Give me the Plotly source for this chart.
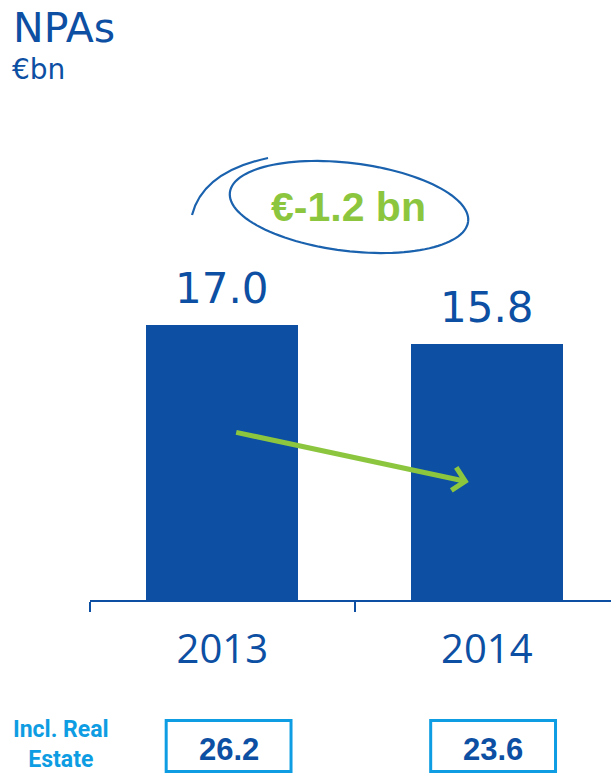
import numpy as np
import plotly.graph_objects as go

# ---- data -------------------------------------------------------------
years = ["2013", "2014"]
npa_values = [17.0, 15.8]            # NPAs, €bn
real_estate_values = [26.2, 23.6]    # incl. real estate, €bn
row_label = "Incl. Real<br>Estate"
title_text = "NPAs"
unit_text = "€bn"

# ---- page geometry ------------------------------------------------------
W, H = 611, 775
ML, MR, MT, MB = 90, 0, 100, 175
PW = W - ML - MR
PH = H - MT - MB

BLUE = "#0C4FA3"
RING = "#1A62AE"
GREEN = "#8CC63F"
LIGHT_BLUE = "#0E9DE2"

cat_px = 264.5                        # pixels per category slot
x_range = [-0.5, -0.5 + PW / cat_px]
y_range = [0, PH / 16.18]


def fx(p):
    """pixel x -> paper x"""
    return (p - ML) / PW


def fy(p):
    """pixel y -> paper y"""
    return (H - MB - p) / PH


xs = list(range(len(years)))

fig = go.Figure()
fig.add_trace(go.Bar(
    x=xs, y=npa_values, width=0.575,
    marker=dict(color=BLUE, line=dict(width=0)),
    hoverinfo="skip", showlegend=False,
))

annotations = []
shapes = []

# value labels above bars
for i, v in zip(xs, npa_values):
    annotations.append(dict(
        x=i, y=v, xref="x", yref="y", text=f"{v:.1f}", showarrow=False,
        yanchor="bottom", xanchor="center", yshift=10,
        font=dict(family="DejaVu Sans", size=42, color=BLUE),
    ))

# title and unit
annotations.append(dict(
    x=fx(11), y=fy(2), xref="paper", yref="paper", text=title_text,
    showarrow=False, xanchor="left", yanchor="top",
    font=dict(family="DejaVu Sans", size=41, color=BLUE),
))
annotations.append(dict(
    x=fx(10), y=fy(51), xref="paper", yref="paper", text=unit_text,
    showarrow=False, xanchor="left", yanchor="top",
    font=dict(family="DejaVu Sans", size=28, color=BLUE),
))

# change callout inside a hand-drawn ring
change = npa_values[1] - npa_values[0]
annotations.append(dict(
    x=fx(348), y=fy(207), xref="paper", yref="paper",
    text=f"<b>€{change:.1f} bn</b>", showarrow=False,
    xanchor="center", yanchor="middle",
    font=dict(family="Liberation Sans", size=41, color=GREEN),
))

cx, cy, a, b, th = 349, 207, 120, 44, np.deg2rad(7)
t = np.linspace(0, 2 * np.pi, 121)
ex = cx + a * np.cos(t) * np.cos(th) - b * np.sin(t) * np.sin(th)
ey = cy + a * np.cos(t) * np.sin(th) + b * np.sin(t) * np.cos(th)
ring_path = "M " + " L ".join(f"{fx(px):.4f},{fy(py):.4f}" for px, py in zip(ex, ey))
shapes.append(dict(type="path", xref="paper", yref="paper", path=ring_path,
                   line=dict(color=RING, width=2.2)))
swoosh = (f"M {fx(192):.4f},{fy(215):.4f} "
          f"Q {fx(203):.4f},{fy(172):.4f} {fx(268):.4f},{fy(158):.4f}")
shapes.append(dict(type="path", xref="paper", yref="paper", path=swoosh,
                   line=dict(color=RING, width=2.2)))

# downward trend arrow between the bars
annotations.append(dict(
    x=0.932, y=7.29, ax=0.047, ay=10.38, xref="x", yref="y",
    axref="x", ayref="y", text="", showarrow=True,
    arrowhead=4, arrowsize=0.9, arrowwidth=5, arrowcolor=GREEN, standoff=0,
))

# "Incl. Real Estate" row
annotations.append(dict(
    x=fx(61), y=fy(744), xref="paper", yref="paper", text=f"<b>{row_label}</b>",
    showarrow=False, xanchor="center", yanchor="middle",
    font=dict(family="Roboto", size=23, color=LIGHT_BLUE),
))

box_half = 0.236
box_off = 0.024
for i, v in zip(xs, real_estate_values):
    shapes.append(dict(
        type="rect", xref="x", yref="paper",
        x0=i + box_off - box_half, x1=i + box_off + box_half,
        y0=fy(771.5), y1=fy(720.5),
        line=dict(color=LIGHT_BLUE, width=3), fillcolor="rgba(0,0,0,0)",
    ))
    annotations.append(dict(
        x=i + box_off, y=fy(749), xref="x", yref="paper", text=f"<b>{v:.1f}</b>",
        showarrow=False, xanchor="center", yanchor="middle",
        font=dict(family="Liberation Sans", size=31, color=BLUE),
    ))

fig.update_layout(
    width=W, height=H,
    margin=dict(l=ML, r=MR, t=MT, b=MB, pad=0),
    paper_bgcolor="white", plot_bgcolor="white",
    bargap=0,
    xaxis=dict(
        range=x_range, tickmode="array", tickvals=xs, ticktext=years,
        ticks="", showline=True, linecolor=BLUE, linewidth=2,
        showgrid=False, zeroline=False,
        tickfont=dict(family="Open Sans", size=40, color=BLUE),
        ticklabelstandoff=13,
        minor=dict(tickmode="array", tickvals=[-0.5, 0.5, 1.5], ticks="outside",
                   ticklen=10, tickwidth=2, tickcolor=BLUE, showgrid=False),
        fixedrange=True,
    ),
    yaxis=dict(range=y_range, visible=False, fixedrange=True),
    annotations=annotations,
    shapes=shapes,
)

fig.write_html("out.html", config={"displayModeBar": False})
